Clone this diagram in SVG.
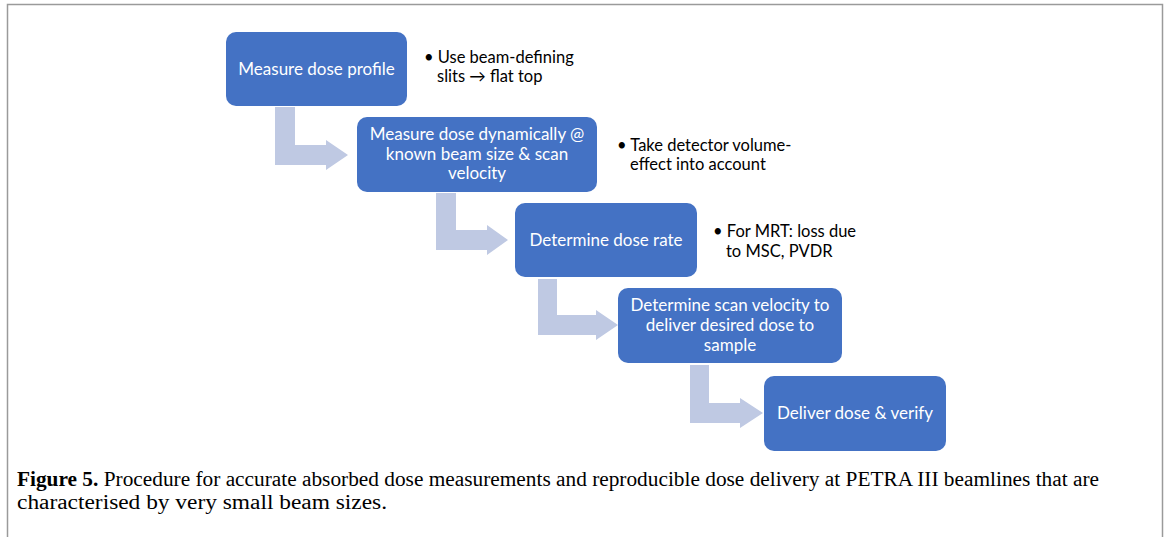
<svg xmlns="http://www.w3.org/2000/svg" width="1167" height="537" viewBox="0 0 1167 537">
<style>
.box{fill:#4472c4}
.bt{font-family:Lato,"Open Sans",sans-serif;font-size:17px;fill:#ffffff;text-anchor:middle}
.nt{font-family:Lato,"Open Sans",sans-serif;font-size:16.5px;fill:#000000}
.arr{fill:#bfc9e3}
.cap{font-family:"Liberation Serif","DejaVu Serif",serif;font-size:20px;fill:#000000}
</style>
<rect x="0" y="0" width="1167" height="537" fill="#ffffff"/>
<path d="M7.5,537 V4.5 H1162.5 V537" fill="none" stroke="#9a9a9a" stroke-width="1.5"/>
<g id="connectors">
<path class="arr" d="M275,107 H295 V145 H326 V140 L348,155 L326,170 V165 H275 Z"/>
<path class="arr" d="M436,193 H456 V230 H487 V225 L508,240 L487,255 V250 H436 Z"/>
<path class="arr" d="M538,279 H557 V315 H596 V310 L618,325 L596,340 V335 H538 Z"/>
<path class="arr" d="M690,365 H709 V403 H740 V398 L763,413 L740,428 V423 H690 Z"/>
</g>
<g id="n1">
<rect class="box" x="226" y="32" width="181" height="74" rx="10"/>
<text class="bt" x="316.5" y="75">Measure dose profile</text>
</g>
<g id="note1">
<text class="nt" x="424" y="63">• Use beam-defining</text>
<text class="nt" x="437" y="82">slits → flat top</text>
</g>
<g id="n2">
<rect class="box" x="357" y="117" width="240" height="75" rx="10"/>
<text class="bt" x="477" y="140">Measure dose dynamically @</text>
<text class="bt" x="477" y="159.5">known beam size &amp; scan</text>
<text class="bt" x="477" y="179">velocity</text>
</g>
<g id="note2">
<text class="nt" x="617" y="151">• Take detector volume-</text>
<text class="nt" x="630" y="170">effect into account</text>
</g>
<g id="n3">
<rect class="box" x="515" y="203" width="182" height="74" rx="10"/>
<text class="bt" x="606" y="246">Determine dose rate</text>
</g>
<g id="note3">
<text class="nt" x="713" y="237">• For MRT: loss due</text>
<text class="nt" x="726" y="257">to MSC, PVDR</text>
</g>
<g id="n4">
<rect class="box" x="618" y="288" width="224" height="75" rx="10"/>
<text class="bt" x="730" y="311">Determine scan velocity to</text>
<text class="bt" x="730" y="331">deliver desired dose to</text>
<text class="bt" x="730" y="351">sample</text>
</g>
<g id="n5">
<rect class="box" x="764" y="376" width="182" height="75" rx="10"/>
<text class="bt" x="855" y="419">Deliver dose &amp; verify</text>
</g>
<g id="caption">
<text class="cap" x="17" y="486" textLength="1082" lengthAdjust="spacingAndGlyphs"><tspan font-weight="bold">Figure 5.</tspan> Procedure for accurate absorbed dose measurements and reproducible dose delivery at PETRA III beamlines that are</text>
<text class="cap" x="17" y="509" textLength="370" lengthAdjust="spacingAndGlyphs">characterised by very small beam sizes.</text>
</g>
</svg>
